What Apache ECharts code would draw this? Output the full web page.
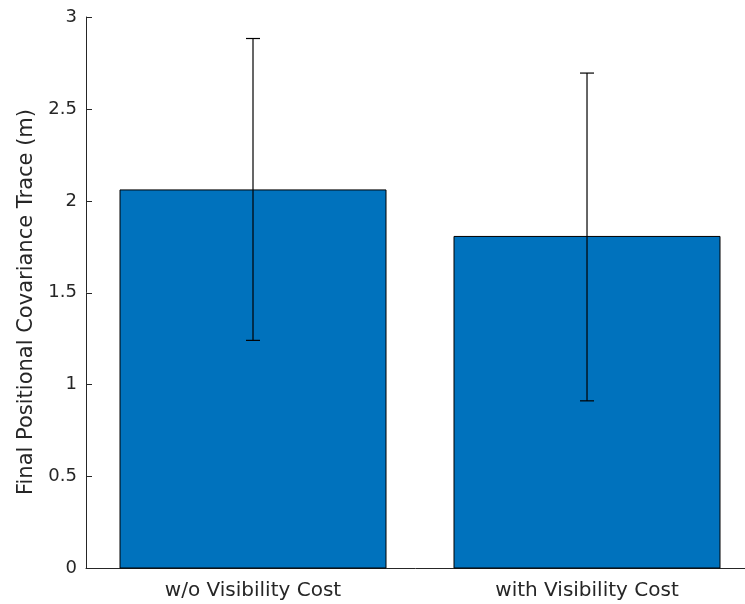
<!DOCTYPE html>
<html><head><meta charset="utf-8">
<script src="https://cdn.jsdelivr.net/npm/echarts@6/dist/echarts.min.js"></script>
<style>html,body{margin:0;padding:0;background:#fff}#c{width:745px;height:604px}</style>
</head><body><div id="c"></div>
<script>
var categories = ['w/o Visibility Cost', 'with Visibility Cost'];
var positions = [1, 2];
var means = [2.062, 1.809];
var errLow = [1.241, 0.912];
var errHigh = [2.883, 2.695];
var yTicks = [0, 0.5, 1, 1.5, 2, 2.5, 3];
var yTitle = 'Final Positional Covariance Trace (m)';

var chart = echarts.init(document.getElementById('c'), null, {renderer: 'canvas'});
var barData = positions.map(function (p, i) { return [p, means[i]]; });
var errData = positions.map(function (p, i) { return [p, errLow[i], errHigh[i]]; });
chart.setOption({
  animation: false,
  grid: {left: 86, top: 17, right: 0, height: 551.5, containLabel: false},
  graphic: [{
    type: 'text', x: 27, y: 302, rotation: Math.PI / 2,
    style: {text: yTitle, fill: '#262626', fontSize: 21, fontFamily: 'DejaVu Sans',
      align: 'center', verticalAlign: 'middle'}
  }],
  xAxis: {
    type: 'value', min: 0.5, max: 2.473,
    axisLine: {show: true, lineStyle: {color: '#262626', width: 1}},
    axisTick: {show: false},
    axisLabel: {color: '#262626', fontSize: 20, fontFamily: 'DejaVu Sans', margin: 12,
      customValues: positions,
      formatter: function (v) { var i = positions.indexOf(v); return i >= 0 ? categories[i] : ''; }},
    splitLine: {show: false}
  },
  yAxis: {
    type: 'value', min: 0, max: 3, interval: 0.5,
    axisLine: {show: true, lineStyle: {color: '#262626', width: 1}},
    axisTick: {show: true, inside: true, length: 6, lineStyle: {color: '#262626'}},
    axisLabel: {color: '#262626', fontSize: 18, fontFamily: 'DejaVu Sans', margin: 9,
      formatter: function (v) { return yTicks.indexOf(v) >= 0 ? String(v) : ''; }},
    splitLine: {show: false}
  },
  series: [{
    type: 'bar', data: barData, barWidth: 267,
    itemStyle: {color: '#0072BD', borderColor: '#000', borderWidth: 1}
  }, {
    type: 'custom', data: errData, z: 10,
    renderItem: function (params, api) {
      var x = api.value(0);
      var lo = api.coord([x, api.value(1)]);
      var hi = api.coord([x, api.value(2)]);
      var cap = 7;
      var st = {stroke: '#000', lineWidth: 1.2};
      return {type: 'group', children: [
        {type: 'line', shape: {x1: lo[0], y1: lo[1], x2: hi[0], y2: hi[1]}, style: st},
        {type: 'line', shape: {x1: lo[0] - cap, y1: lo[1], x2: lo[0] + cap, y2: lo[1]}, style: st},
        {type: 'line', shape: {x1: hi[0] - cap, y1: hi[1], x2: hi[0] + cap, y2: hi[1]}, style: st}
      ]};
    }
  }]
});
</script></body></html>
